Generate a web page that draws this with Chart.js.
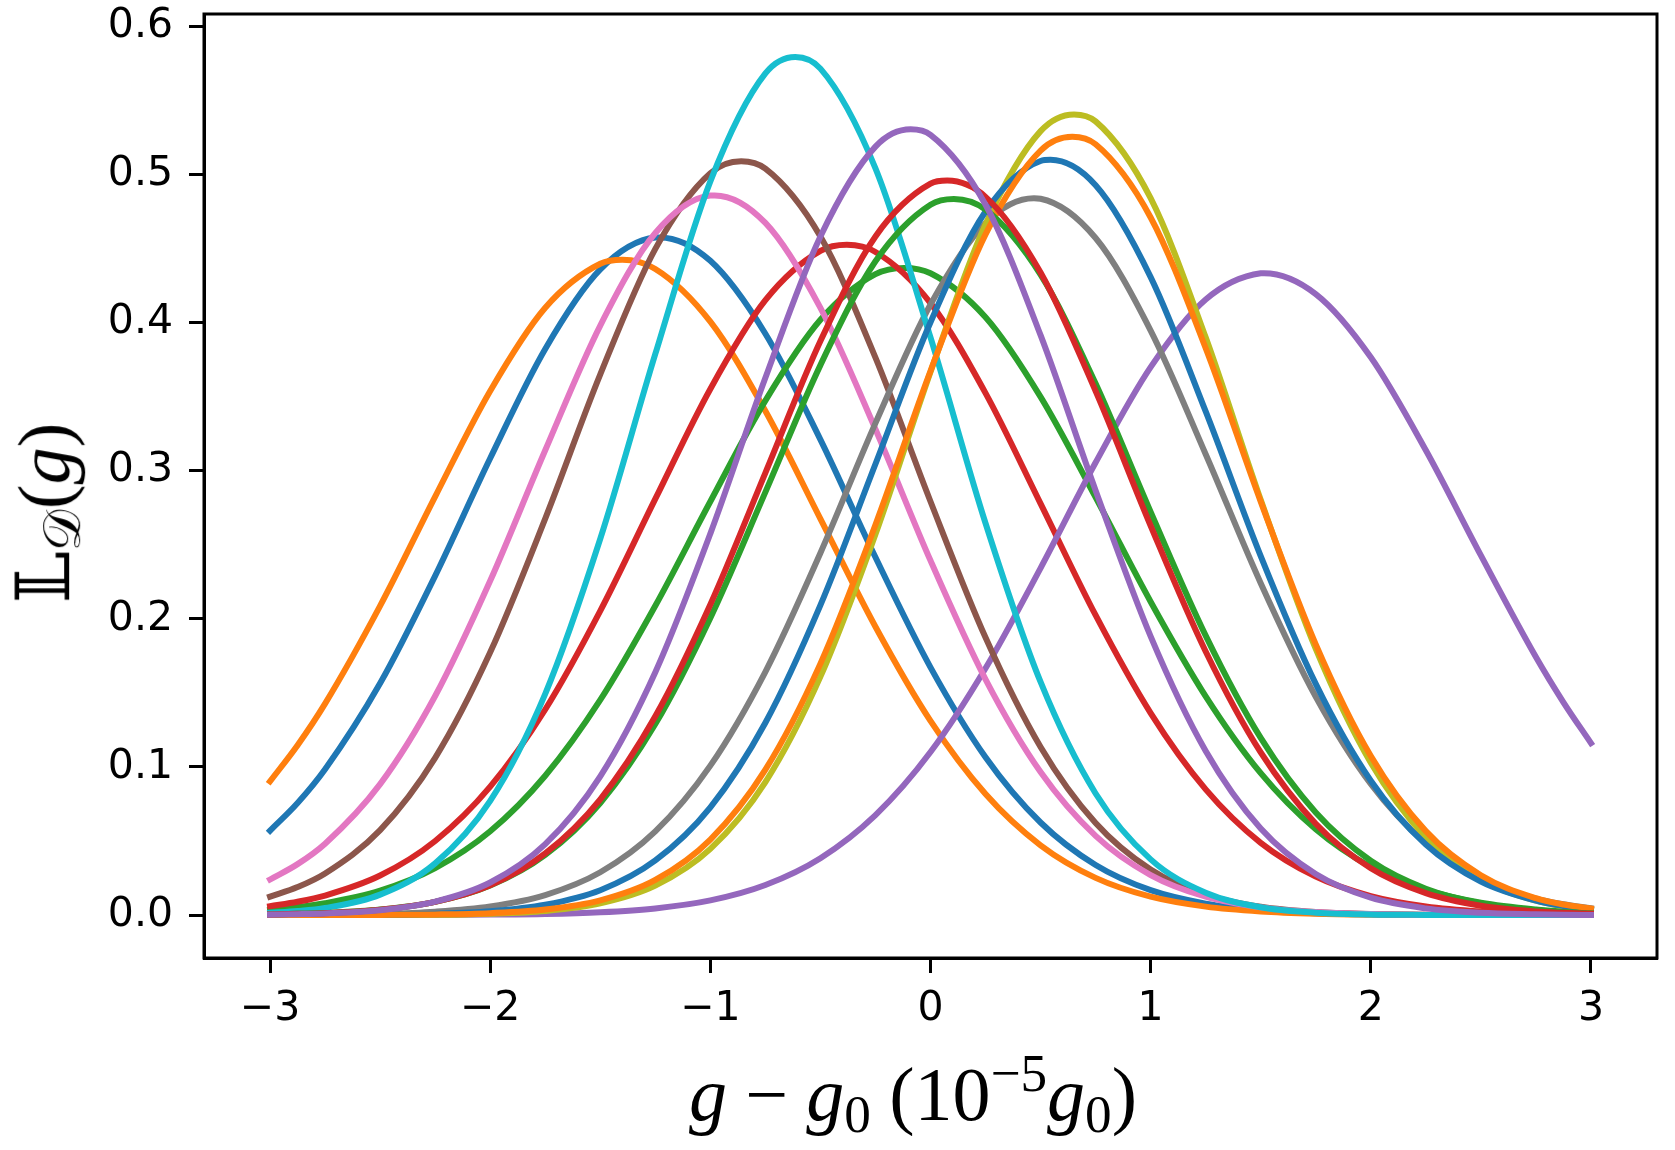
<!DOCTYPE html>
<html>
<head>
<meta charset="utf-8">
<script src="https://cdn.jsdelivr.net/npm/chart.js@4.4.0/dist/chart.umd.min.js"></script>
<style>
  html, body { margin: 0; padding: 0; background: #fff; }
  #wrap { position: relative; width: 1675px; height: 1150px; }
  #c { position: absolute; left: 0; top: 0; }
  .lbl { position: absolute; font-family: "Liberation Serif", "DejaVu Serif", serif; line-height: 1; white-space: nowrap; color: #000; }
  #xlab { font-size: 76px; }
  #ylab { font-size: 74px; }
  .lbl i { font-style: italic; }
  .sub { font-size: 70%; position: relative; top: 0.22em; }
  .sup { font-size: 70%; position: relative; top: -0.55em; }
  .sp { display: inline-block; width: 0.24em; }
</style>
</head>
<body>
<div id="wrap">
  <canvas id="c" width="1675" height="1150"></canvas>
  <div class="lbl" id="xlab"><i>g</i><span class="sp"></span>&#8722;<span class="sp"></span><i>g</i><span class="sub">0</span><span class="sp"></span>(10<span class="sup">&#8722;5</span><i>g</i><span class="sub">0</span>)</div>
  <div class="lbl" id="ylab">&#x1D543;<span class="sub">&#x1D49F;</span>(<i>g</i>)</div>
</div>
<script>
// x sample positions (10^-5 g0)
const xs = [-3,-2.875,-2.75,-2.5,-2.25,-2,-1.75,-1.5,-1.25,-1,-0.75,-0.5,-0.25,0,0.25,0.5,0.75,1,1.25,1.5,1.75,2,2.25,2.5,2.75,2.875,3];

// series values
const blue1   = [0.0570,0.0757,0.0985,0.1565,0.2291,0.3085,0.3823,0.4360,0.4575,0.4418,0.3926,0.3211,0.2416,0.1673,0.1066,0.0625,0.0338,0.0168,0.0077,0.0032,0.0012,0.0004,0.0001,0,0,0,0];
const orange1 = [0.0903,0.1147,0.1428,0.2088,0.2826,0.3539,0.4101,0.4398,0.4363,0.4007,0.3404,0.2676,0.1947,0.1311,0.0817,0.0471,0.0251,0.0124,0.0057,0.0024,0.0009,0.0003,0.0001,0,0,0,0];
const green1  = [0.0036,0.0054,0.0080,0.0165,0.0317,0.0566,0.0941,0.1453,0.2089,0.2793,0.3474,0.4020,0.4328,0.4334,0.4037,0.3499,0.2821,0.2116,0.1477,0.0958,0.0579,0.0325,0.0170,0.0083,0.0037,0.0024,0.0016];
const red1    = [0.0060,0.0090,0.0132,0.0267,0.0500,0.0867,0.1388,0.2054,0.2810,0.3553,0.4152,0.4485,0.4478,0.4133,0.3525,0.2779,0.2025,0.1364,0.0849,0.0488,0.0260,0.0128,0.0058,0.0024,0.0009,0.0006,0.0003];
const purple2 = [0,0,0,0,0.0001,0.0003,0.0007,0.0019,0.0045,0.0099,0.0203,0.0384,0.0675,0.1101,0.1667,0.2343,0.3056,0.3700,0.4157,0.4334,0.4194,0.3767,0.3139,0.2429,0.1743,0.1437,0.1161];
const brown   = [0.0124,0.0189,0.0281,0.0574,0.1062,0.1774,0.2677,0.3651,0.4499,0.5010,0.5040,0.4582,0.3764,0.2793,0.1874,0.1135,0.0621,0.0307,0.0137,0.0056,0.0020,0.0007,0.0002,0,0,0,0];
const pink    = [0.0240,0.0344,0.0482,0.0884,0.1479,0.2257,0.3139,0.3981,0.4606,0.4859,0.4674,0.4100,0.3281,0.2394,0.1592,0.0966,0.0535,0.0270,0.0124,0.0052,0.0020,0.0007,0.0002,0,0,0,0];
const gray    = [0.0001,0.0002,0.0003,0.0008,0.0023,0.0058,0.0135,0.0289,0.0565,0.1009,0.1643,0.2445,0.3322,0.4123,0.4673,0.4837,0.4572,0.3947,0.3112,0.2241,0.1474,0.0885,0.0485,0.0243,0.0111,0.0073,0.0046];
const olive   = [0,0,0,0.0001,0.0002,0.0009,0.0028,0.0079,0.0199,0.0447,0.0898,0.1610,0.2572,0.3668,0.4665,0.5294,0.5360,0.4841,0.3901,0.2804,0.1798,0.1029,0.0525,0.0239,0.0097,0.0059,0.0035];
const cyan    = [0.0015,0.0027,0.0048,0.0138,0.0349,0.0771,0.1494,0.2541,0.3789,0.4955,0.5684,0.5716,0.5042,0.3901,0.2646,0.1574,0.0821,0.0376,0.0151,0.0053,0.0016,0.0004,0.0001,0,0,0,0];
const blue2   = [0,0,0.0001,0.0003,0.0009,0.0026,0.0070,0.0168,0.0369,0.0728,0.1299,0.2093,0.3046,0.4003,0.4751,0.5092,0.4928,0.4308,0.3401,0.2424,0.1561,0.0907,0.0476,0.0226,0.0097,0.0061,0.0037];
const orange2 = [0,0,0,0.0001,0.0004,0.0013,0.0037,0.0099,0.0237,0.0510,0.0982,0.1698,0.2636,0.3674,0.4597,0.5163,0.5205,0.4711,0.3828,0.2792,0.1828,0.1074,0.0567,0.0269,0.0114,0.0071,0.0044];
const green2  = [0.0005,0.0008,0.0014,0.0037,0.0089,0.0199,0.0406,0.0757,0.1290,0.2007,0.2856,0.3714,0.4415,0.4797,0.4764,0.4325,0.3589,0.2722,0.1887,0.1196,0.0693,0.0367,0.0178,0.0079,0.0032,0.0020,0.0012];
const red2    = [0.0004,0.0008,0.0013,0.0036,0.0089,0.0201,0.0416,0.0782,0.1342,0.2097,0.2986,0.3876,0.4583,0.4939,0.4850,0.4339,0.3538,0.2629,0.1780,0.1098,0.0617,0.0316,0.0148,0.0063,0.0024,0.0015,0.0009];
const purple1 = [0.0003,0.0006,0.0011,0.0033,0.0091,0.0220,0.0479,0.0937,0.1640,0.2576,0.3628,0.4582,0.5189,0.5269,0.4797,0.3916,0.2867,0.1882,0.1108,0.0584,0.0277,0.0117,0.0045,0.0015,0.0005,0.0002,0.0001];

// peak of each curve (x, y), in the same order as seriesList
const peakX = [-1.23,-1.40,-0.12,-0.38,1.515,-0.86,-0.98,0.47,0.652,-0.614,0.545,0.644,0.106,0.076,-0.09];
const peakY = [0.4576,0.4425,0.4370,0.4526,0.4335,0.5090,0.4860,0.4840,0.5407,0.5795,0.5100,0.5256,0.4836,0.4960,0.5306];

const seriesList = [blue1, orange1, green1, red1, purple2, brown, pink, gray, olive, cyan, blue2, orange2, green2, red2, purple1];
const seriesColors = ['#1f77b4','#ff7f0e','#2ca02c','#d62728','#9467bd','#8c564b','#e377c2','#7f7f7f','#bcbd22','#17becf','#1f77b4','#ff7f0e','#2ca02c','#d62728','#9467bd'];

// axis ticks
const xTickVals = [-3,-2,-1,0,1,2,3];
const xTickLabels = ['\u22123','\u22122','\u22121','0','1','2','3'];
const yTickVals = [0,0.1,0.2,0.3,0.4,0.5,0.6];
const yTickLabels = ['0.0','0.1','0.2','0.3','0.4','0.5','0.6'];

const datasets = seriesList.map((vals, i) => {
  const pts = xs.map((x, j) => ({ x: x, y: vals[j] }));
  if (!xs.includes(peakX[i])) pts.push({ x: peakX[i], y: peakY[i] });
  pts.sort((a, b) => a.x - b.x);
  return {
    data: pts,
    borderColor: seriesColors[i],
    borderWidth: 6,
    pointRadius: 0,
    fill: false,
    cubicInterpolationMode: 'monotone',
    borderCapStyle: 'square',
    borderJoinStyle: 'round',
    order: seriesList.length - i
  };
});

const framePlugin = {
  id: 'frame',
  afterDraw(chart) {
    const a = chart.chartArea, ctx = chart.ctx;
    ctx.save();
    ctx.strokeStyle = '#000';
    ctx.lineWidth = 3;
    ctx.strokeRect(a.left, a.top, a.right - a.left, a.bottom - a.top);
    ctx.restore();
  }
};

new Chart(document.getElementById('c'), {
  type: 'line',
  data: { datasets: datasets },
  plugins: [framePlugin],
  options: {
    responsive: false,
    animation: false,
    devicePixelRatio: 1,
    layout: { padding: { top: 14, right: 18, left: 0, bottom: 0 } },
    plugins: { legend: { display: false }, tooltip: { enabled: false } },
    scales: {
      x: {
        type: 'linear', min: -3.3, max: 3.3,
        afterBuildTicks: s => { s.ticks = xTickVals.map(v => ({ value: v })); },
        afterFit: s => { s.height = 192; s.paddingLeft = 0; s.paddingRight = 0; },
        ticks: {
          font: { family: 'DejaVu Sans', size: 41 }, color: '#000', padding: 12,
          maxRotation: 0, autoSkip: false,
          callback: (v, i) => xTickLabels[i]
        },
        grid: { display: true, drawOnChartArea: false, drawTicks: true, tickLength: 15, tickWidth: 3, tickColor: '#000' },
        border: { display: true, color: '#000', width: 3 }
      },
      y: {
        type: 'linear', min: -0.029, max: 0.6085,
        afterBuildTicks: s => { s.ticks = yTickVals.map(v => ({ value: v })); },
        afterFit: s => { s.width = 204; s.paddingTop = 0; s.paddingBottom = 0; },
        ticks: {
          font: { family: 'DejaVu Sans', size: 41 }, color: '#000', padding: 16,
          autoSkip: false,
          callback: (v, i) => yTickLabels[i]
        },
        grid: { display: true, drawOnChartArea: false, drawTicks: true, tickLength: 15, tickWidth: 3, tickColor: '#000' },
        border: { display: true, color: '#000', width: 3 }
      }
    }
  }
});

// position the axis titles
const xl = document.getElementById('xlab');
xl.style.left = (913 - xl.offsetWidth / 2) + 'px';
xl.style.top = '1056px';
const yl = document.getElementById('ylab');
const w = yl.offsetWidth, h = yl.offsetHeight;
yl.style.left = (44 - w / 2) + 'px';
yl.style.top = (513 - h / 2) + 'px';
yl.style.transform = 'rotate(-90deg)';
</script>
</body>
</html>
